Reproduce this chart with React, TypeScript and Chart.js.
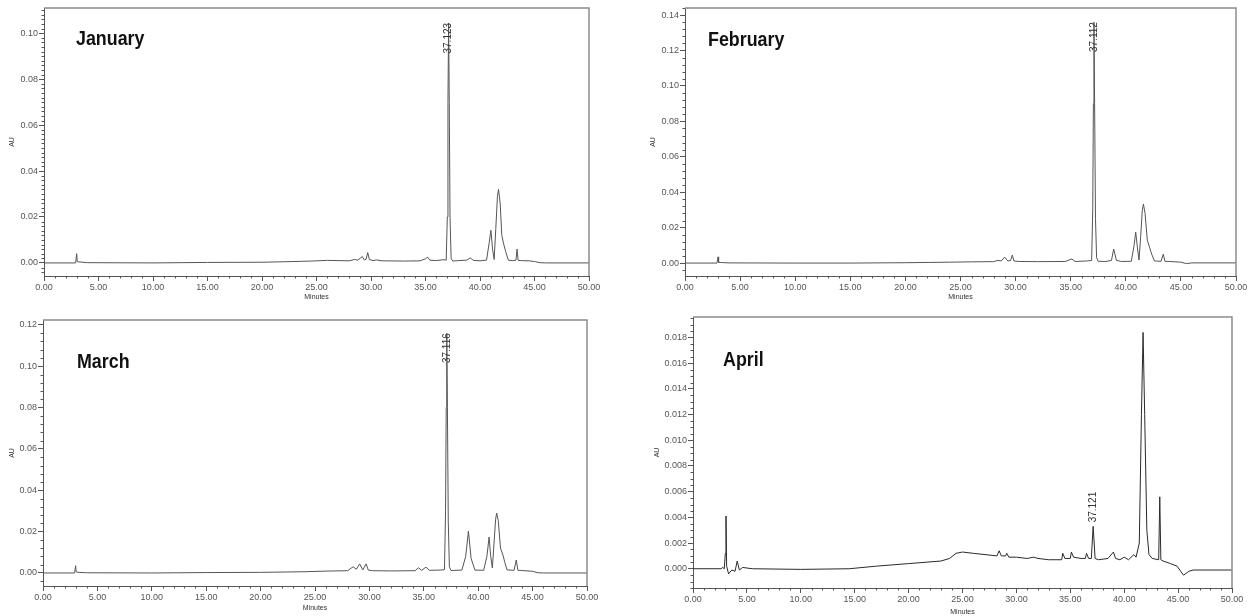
import React, { useEffect, useRef } from "react";
import { Chart, registerables } from "chart.js";

Chart.register(...registerables);

// ---------------- DATA ----------------
const xTickLabels = ["0.00", "5.00", "10.00", "15.00", "20.00", "25.00", "30.00", "35.00", "40.00", "45.00", "50.00"];

const janTime = [0, 2.9, 3.0, 3.05, 3.3, 4, 10, 15, 20, 22, 24.5, 26, 28, 28.5, 28.8, 29.0, 29.2, 29.4, 29.55, 29.7, 29.85, 30.2, 30.5, 31, 33, 34.5, 35.0, 35.2, 35.4, 36, 36.6, 36.9, 37.0, 37.06, 37.12, 37.18, 37.25, 37.35, 37.5, 38, 38.8, 39.1, 39.4, 40, 40.6, 40.85, 41.0, 41.15, 41.3, 41.45, 41.6, 41.7, 41.85, 42.0, 42.15, 42.35, 42.6, 43.0, 43.3, 43.4, 43.5, 43.8, 44.5, 45.0, 45.5, 46, 50];
const janAU = [0, 0, 0.004, 0.0005, 0.0004, 0.0001, 0, 0.0002, 0.0003, 0.0005, 0.0008, 0.0011, 0.0009, 0.0015, 0.0012, 0.002, 0.0028, 0.0012, 0.0016, 0.0045, 0.0015, 0.001, 0.0013, 0.0009, 0.0008, 0.0009, 0.0018, 0.0025, 0.0012, 0.001, 0.0014, 0.0012, 0.02, 0.07, 0.1045, 0.07, 0.02, 0.002, 0.0008, 0.001, 0.0012, 0.0022, 0.0011, 0.0009, 0.0012, 0.009, 0.0142, 0.006, 0.0015, 0.015, 0.029, 0.032, 0.026, 0.012, 0.0087, 0.005, 0.0012, 0.001, 0.0012, 0.006, 0.0011, 0.001, 0.0009, 0.0006, 0.0001, 0, 0];

const febTime = [0, 2.9, 3.0, 3.05, 3.3, 4, 10, 15, 20, 24, 26, 28, 28.4, 28.7, 29.0, 29.3, 29.55, 29.7, 29.85, 30.3, 32, 34.5, 35.1, 35.4, 36.5, 36.9, 37.0, 37.06, 37.11, 37.17, 37.25, 37.35, 37.5, 38.2, 38.7, 38.9, 39.15, 39.6, 40.5, 40.75, 40.9, 41.05, 41.2, 41.35, 41.5, 41.6, 41.75, 41.95, 42.15, 42.35, 42.6, 43.2, 43.4, 43.55, 44, 45, 45.5, 46, 50];
const febAU = [0, 0, 0.0035, 0.0004, 0.0003, 0.0001, 0, 0, 0.0002, 0.0005, 0.0007, 0.0008, 0.0015, 0.0012, 0.0034, 0.0012, 0.0015, 0.0045, 0.0012, 0.0009, 0.0008, 0.0009, 0.0023, 0.0009, 0.0012, 0.0015, 0.03, 0.09, 0.136, 0.09, 0.025, 0.003, 0.001, 0.0009, 0.0015, 0.0079, 0.0015, 0.0009, 0.001, 0.01, 0.0175, 0.009, 0.0017, 0.015, 0.03, 0.0333, 0.028, 0.013, 0.009, 0.005, 0.0012, 0.001, 0.005, 0.001, 0.0009, 0.0005, -0.0003, 0.0001, 0.0001];

const marTime = [0, 2.9, 3.0, 3.05, 3.3, 4, 10, 15, 20, 24, 26, 28, 28.5, 28.8, 29.1, 29.4, 29.7, 29.9, 30.3, 32, 34.2, 34.5, 34.8, 35.2, 35.5, 36.5, 36.9, 37.0, 37.06, 37.11, 37.17, 37.25, 37.35, 37.5, 38.5, 38.85, 39.1, 39.35, 39.7, 40.5, 40.8, 41.0, 41.15, 41.3, 41.45, 41.6, 41.7, 41.85, 42.05, 42.3, 42.45, 42.65, 43.3, 43.5, 43.65, 44, 45, 45.5, 46, 50];
const marAU = [0, 0, 0.0035, 0.0005, 0.0003, 0.0001, 0, 0.0002, 0.0003, 0.0006, 0.0009, 0.0011, 0.003, 0.0018, 0.0044, 0.0015, 0.0044, 0.0014, 0.0011, 0.001, 0.0011, 0.0025, 0.0013, 0.0028, 0.0013, 0.0014, 0.0016, 0.03, 0.08, 0.116, 0.08, 0.025, 0.003, 0.0012, 0.0014, 0.008, 0.0203, 0.007, 0.0014, 0.0013, 0.008, 0.0174, 0.008, 0.0024, 0.014, 0.026, 0.029, 0.025, 0.012, 0.0082, 0.005, 0.0015, 0.0013, 0.0063, 0.0013, 0.0012, 0.0008, 0.0001, 0, 0];

const aprTime = [0, 2.6, 2.75, 2.9, 3.0, 3.06, 3.12, 3.3, 3.6, 3.9, 4.1, 4.3, 4.6, 5.5, 10, 14.5, 17, 20, 23, 23.8, 24.4, 25.0, 26, 28.2, 28.4, 28.6, 29.0, 29.1, 29.3, 30, 31, 31.6, 32, 33, 34.2, 34.3, 34.5, 35.0, 35.1, 35.3, 36.0, 36.4, 36.5, 36.7, 36.95, 37.12, 37.3, 37.6, 38.5, 39.0, 39.2, 39.6, 40, 40.4, 40.9, 41.1, 41.4, 41.6, 41.75, 41.9, 42.1, 42.3, 42.6, 43.2, 43.3, 43.4, 43.6, 44.3, 44.9, 45.5, 46.0, 46.4, 50];
const aprAU = [0, 0, 0.0001, 0, 0.0012, 0.0041, 0.0002, -0.0004, -0.0001, -0.0002, 0.0006, -0.0001, 0.0001, 0, -0.00005, 0, 0.0002, 0.0004, 0.0006, 0.0008, 0.0012, 0.0013, 0.0012, 0.001, 0.0014, 0.001, 0.001, 0.0012, 0.0009, 0.0009, 0.0008, 0.0009, 0.0008, 0.0007, 0.0007, 0.0012, 0.0008, 0.0008, 0.0013, 0.0009, 0.0008, 0.0008, 0.0012, 0.0008, 0.0008, 0.0033, 0.0008, 0.0007, 0.0008, 0.0013, 0.0008, 0.0007, 0.0009, 0.0007, 0.0011, 0.0009, 0.002, 0.012, 0.0184, 0.012, 0.003, 0.0011, 0.0008, 0.0007, 0.0056, 0.0007, 0.0006, 0.0004, 0.0002, -0.0005, -0.0002, -0.0001, -0.0001];

const monthNames = ["January", "February", "March", "April"];
const peakLabels = ["37.123", "37.112", "37.116", "37.121"];
const peakTimes = [37.12, 37.11, 37.11, 37.12];
const peakAU = [0.1045, 0.136, 0.116, 0.0033];

// ---------------- LAYOUT / STYLE ----------------
type Panel = {
  name: string;
  time: number[];
  au: number[];
  peakLabel: string;
  peakT: number;
  peakV: number;
  labelAbove: boolean;
  canvas: { left: number; top: number; width: number; height: number };
  area: { l: number; t: number; r: number; b: number };
  yMin: number;
  yMax: number;
  yStep: number;
  yMinor: number;
  yDec: number;
  titleDx: number;
  titleDy: number;
  minutesDy: number;
  auDx: number;
  lineColor: string;
};

const panels: Panel[] = [
  {
    name: monthNames[0], time: janTime, au: janAU, peakLabel: peakLabels[0], peakT: peakTimes[0], peakV: peakAU[0], labelAbove: false,
    canvas: { left: 0, top: 0, width: 625, height: 305 }, area: { l: 44, t: 8, r: 589, b: 276 },
    yMin: -0.0057, yMax: 0.111, yStep: 0.02, yMinor: 0.002, yDec: 2, titleDx: 32, titleDy: 24, minutesDy: 21, auDx: 32, lineColor: "#555",
  },
  {
    name: monthNames[1], time: febTime, au: febAU, peakLabel: peakLabels[1], peakT: peakTimes[1], peakV: peakAU[1], labelAbove: false,
    canvas: { left: 630, top: 0, width: 621, height: 305 }, area: { l: 685, t: 8, r: 1236, b: 276 },
    yMin: -0.0073, yMax: 0.144, yStep: 0.02, yMinor: 0.004, yDec: 2, titleDx: 23, titleDy: 25, minutesDy: 21, auDx: 32, lineColor: "#555",
  },
  {
    name: monthNames[2], time: marTime, au: marAU, peakLabel: peakLabels[2], peakT: peakTimes[2], peakV: peakAU[2], labelAbove: false,
    canvas: { left: 0, top: 308, width: 625, height: 308 }, area: { l: 43, t: 320, r: 587, b: 586 },
    yMin: -0.0063, yMax: 0.1224, yStep: 0.02, yMinor: 0.004, yDec: 2, titleDx: 34, titleDy: 35, minutesDy: 22, auDx: 31, lineColor: "#555",
  },
  {
    name: monthNames[3], time: aprTime, au: aprAU, peakLabel: peakLabels[3], peakT: peakTimes[3], peakV: peakAU[3], labelAbove: true,
    canvas: { left: 630, top: 308, width: 621, height: 308 }, area: { l: 693, t: 317, r: 1232, b: 588 },
    yMin: -0.0015, yMax: 0.0196, yStep: 0.002, yMinor: 0.0005, yDec: 3, titleDx: 30, titleDy: 36, minutesDy: 24, auDx: 36, lineColor: "#2a2a2a",
  },
];

const AXIS_COLOR = "#555";
const FRAME_COLOR = "#8c8c8c";
const TEXT_COLOR = "#555";
const TICK_FONT = "Liberation Sans, Arial, sans-serif";

function makeDecorPlugin(p: Panel) {
  return {
    id: "decor",
    afterDraw(chart: any) {
      const ctx = chart.ctx as CanvasRenderingContext2D;
      const a = chart.chartArea;
      const xs = chart.scales.x;
      const ys = chart.scales.y;
      ctx.save();
      // frame
      ctx.strokeStyle = FRAME_COLOR;
      ctx.lineWidth = 1.5;
      ctx.beginPath();
      ctx.moveTo(a.left, a.top);
      ctx.lineTo(a.right, a.top);
      ctx.lineTo(a.right, a.bottom);
      ctx.stroke();
      // minor ticks x
      ctx.strokeStyle = AXIS_COLOR;
      ctx.lineWidth = 1;
      ctx.beginPath();
      for (let k = 0; k <= 50; k++) {
        if (k % 5 === 0) continue;
        const px = Math.round(xs.getPixelForValue(k)) + 0.5;
        ctx.moveTo(px, a.bottom);
        ctx.lineTo(px, a.bottom + 2.5);
      }
      // minor ticks y
      const kStart = Math.ceil(p.yMin / p.yMinor - 1e-6);
      const kEnd = Math.floor(p.yMax / p.yMinor + 1e-6);
      const ratio = Math.round(p.yStep / p.yMinor);
      for (let k = kStart; k <= kEnd; k++) {
        if (k % ratio === 0) continue;
        const py = Math.round(ys.getPixelForValue(k * p.yMinor)) + 0.5;
        ctx.moveTo(a.left - 2.5, py);
        ctx.lineTo(a.left, py);
      }
      ctx.stroke();
      // title (condensed)
      ctx.save();
      ctx.fillStyle = "#111";
      ctx.font = "bold 21px 'Liberation Sans Narrow', 'Arial Narrow', 'Liberation Sans', sans-serif";
      ctx.textBaseline = "top";
      ctx.textAlign = "left";
      ctx.translate(a.left + p.titleDx, a.top + p.titleDy - 3);
      ctx.scale(0.85, 1);
      ctx.fillText(p.name, 0, 0);
      ctx.restore();
      // AU label
      ctx.fillStyle = "#333";
      ctx.font = `7px ${TICK_FONT}`;
      ctx.save();
      ctx.translate(a.left - p.auDx, (a.top + a.bottom) / 2);
      ctx.rotate(-Math.PI / 2);
      ctx.textAlign = "center";
      ctx.textBaseline = "middle";
      ctx.fillText("AU", 0, 0);
      ctx.restore();
      // Minutes label
      ctx.textAlign = "center";
      ctx.textBaseline = "middle";
      ctx.fillText("Minutes", (a.left + a.right) / 2, a.bottom + p.minutesDy);
      // peak label
      const px = xs.getPixelForValue(p.peakT);
      const py = ys.getPixelForValue(p.peakV);
      ctx.fillStyle = "#333";
      ctx.font = `10px ${TICK_FONT}`;
      ctx.save();
      ctx.translate(px, p.labelAbove ? py - 4 : py);
      ctx.rotate(-Math.PI / 2);
      ctx.textBaseline = "middle";
      ctx.textAlign = p.labelAbove ? "left" : "right";
      ctx.fillText(p.peakLabel, 0, 0);
      ctx.restore();
      ctx.restore();
    },
  };
}

function ChromPanel({ p }: { p: Panel }) {
  const ref = useRef<HTMLCanvasElement | null>(null);
  useEffect(() => {
    if (!ref.current) return;
    const yAxisW = p.area.l - p.canvas.left;
    const xAxisH = p.canvas.top + p.canvas.height - p.area.b;
    const padTop = p.area.t - p.canvas.top;
    const padRight = p.canvas.left + p.canvas.width - p.area.r;
    const data = p.time.map((t, i) => ({ x: t, y: p.au[i] }));
    const chart = new Chart(ref.current, {
      type: "line",
      data: {
        datasets: [
          {
            data,
            borderColor: p.lineColor,
            borderWidth: 1,
            pointRadius: 0,
            tension: 0,
            fill: false,
          },
        ],
      },
      options: {
        animation: false,
        responsive: false,
        events: [],
        layout: { padding: { top: padTop, right: padRight, left: 0, bottom: 0 } },
        plugins: { legend: { display: false }, tooltip: { enabled: false }, title: { display: false } },
        scales: {
          x: {
            type: "linear",
            min: 0,
            max: 50,
            afterFit: (s: any) => { s.height = xAxisH; },
            border: { display: true, color: AXIS_COLOR, width: 1 },
            grid: { display: true, drawOnChartArea: false, drawTicks: true, tickLength: 5, color: AXIS_COLOR },
            ticks: {
              stepSize: 5,
              includeBounds: false,
              autoSkip: false,
              maxRotation: 0,
              padding: 1,
              color: TEXT_COLOR,
              font: { size: 9, family: TICK_FONT },
              callback: (v: any) => {
                const idx = Math.round(Number(v) / 5);
                return xTickLabels[idx] ?? "";
              },
            },
          },
          y: {
            type: "linear",
            min: p.yMin,
            max: p.yMax,
            afterFit: (s: any) => { s.width = yAxisW; },
            border: { display: true, color: AXIS_COLOR, width: 1 },
            grid: { display: true, drawOnChartArea: false, drawTicks: true, tickLength: 5, color: AXIS_COLOR },
            ticks: {
              stepSize: p.yStep,
              includeBounds: false,
              autoSkip: false,
              padding: 1,
              color: TEXT_COLOR,
              font: { size: 9, family: TICK_FONT },
              callback: (v: any) => Number(v).toFixed(p.yDec),
            },
          },
        },
      },
      plugins: [makeDecorPlugin(p)],
    } as any);
    return () => chart.destroy();
  }, [p]);
  return (
    <canvas
      ref={ref}
      width={p.canvas.width}
      height={p.canvas.height}
      style={{ position: "absolute", left: p.canvas.left, top: p.canvas.top, width: p.canvas.width, height: p.canvas.height }}
    />
  );
}

export default function App() {
  return (
    <div style={{ position: "absolute", left: 0, top: 0, width: 1251, height: 616, background: "#fff" }}>
      {panels.map((p) => (
        <ChromPanel key={p.name} p={p} />
      ))}
    </div>
  );
}
